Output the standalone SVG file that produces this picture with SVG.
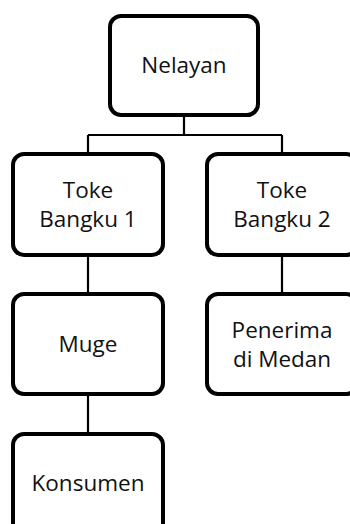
<svg xmlns="http://www.w3.org/2000/svg" width="350" height="524" viewBox="0 0 350 524">
<style>
.box{fill:#fff;stroke:#000;stroke-width:4}
.lbl{font-family:"Open Sans","Noto Sans",sans-serif;font-size:22.5px;fill:#111;text-anchor:middle}
.con{fill:none;stroke:#000;stroke-width:2.2}
</style>
<rect width="350" height="524" fill="#fff"/>
<g id="connectors">
<path class="con" d="M184 115V135M88 135H282M88 135V154M282 135V154M88 255V294M282 255V294M88 394V434"/>
</g>
<g id="nelayan"><rect class="box" x="110" y="16" width="148" height="99" rx="11"/><text class="lbl" x="184" y="73">Nelayan</text></g>
<g id="toke1"><rect class="box" x="13" y="154" width="150" height="101" rx="11"/><text class="lbl" x="88" y="198">Toke</text><text class="lbl" x="88" y="227">Bangku 1</text></g>
<g id="toke2"><rect class="box" x="207" y="154" width="150" height="101" rx="11"/><text class="lbl" x="282" y="198">Toke</text><text class="lbl" x="282" y="227">Bangku 2</text></g>
<g id="muge"><rect class="box" x="13" y="294" width="150" height="100" rx="11"/><text class="lbl" x="88" y="352">Muge</text></g>
<g id="penerima"><rect class="box" x="207" y="294" width="150" height="100" rx="11"/><text class="lbl" x="282" y="338">Penerima</text><text class="lbl" x="282" y="367">di Medan</text></g>
<g id="konsumen"><rect class="box" x="13" y="434" width="150" height="100" rx="11"/><text class="lbl" x="88" y="491">Konsumen</text></g>
</svg>
